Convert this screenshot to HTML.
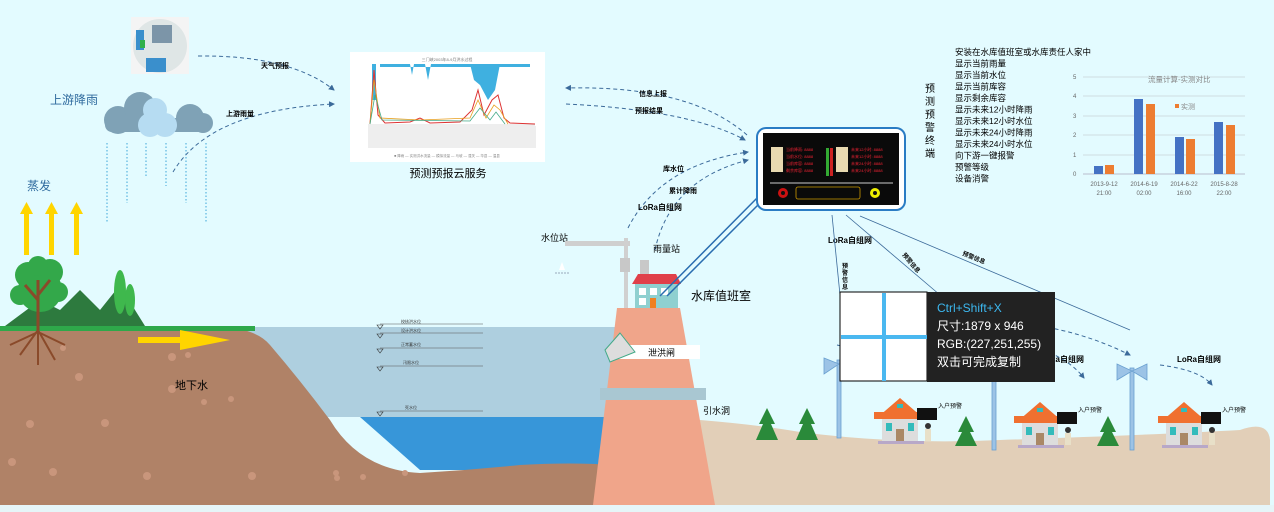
<!DOCTYPE html>
<html><head><meta charset="utf-8"><style>
html,body{margin:0;padding:0;background:#e3fbff;}
svg{display:block;font-family:"Liberation Sans","Noto Sans CJK SC",sans-serif;}
</style></head><body>
<svg width="1274" height="512" viewBox="0 0 1274 512" xmlns="http://www.w3.org/2000/svg">
<defs>
<marker id="ah" markerWidth="6" markerHeight="6" refX="5" refY="3" orient="auto"><path d="M0,0 L6,3 L0,6 z" fill="#3b6a9a"/></marker>
</defs>
<rect width="1274" height="512" fill="#e3fbff"/>

<path d="M700,420 Q760,425 800,432 Q900,445 1000,440 Q1150,435 1240,430 Q1268,420 1270,440 L1270,505 L700,505 Z" fill="#e2cfb8"/>
<rect x="215" y="327" width="400" height="90" fill="#aecfdf"/>
<path d="M360,417 L615,417 L615,470 L420,470 Z" fill="#3796d9"/>
<path d="M0,327 L215,327 Q255,327 270,345 Q300,380 330,420 Q360,470 420,473 Q470,470 520,465 Q570,462 615,465 L615,505 L0,505 Z" fill="#b08267"/>
<g fill="#c9967c">
<circle cx="63" cy="348" r="3"/><circle cx="79" cy="377" r="4"/><circle cx="172" cy="357" r="4"/><circle cx="188" cy="355" r="3"/><circle cx="30" cy="424" r="4"/><circle cx="105" cy="423" r="4"/><circle cx="172" cy="389" r="4"/><circle cx="12" cy="462" r="4"/><circle cx="53" cy="472" r="4"/><circle cx="147" cy="476" r="4"/><circle cx="204" cy="402" r="3"/><circle cx="231" cy="399" r="3"/><circle cx="252" cy="476" r="4"/><circle cx="337" cy="478" r="3"/><circle cx="405" cy="473" r="3"/><circle cx="336" cy="473" r="3"/><circle cx="363" cy="477" r="3"/>
</g>
<rect x="0" y="505" width="1274" height="7" fill="#e6f5f8"/>
<rect x="0" y="326" width="255" height="5" fill="#2ea84a"/>
<path d="M5,326 L40,300 L60,310 L80,290 L100,310 L120,285 L135,310 L145,326 Z" fill="#2d7a3e"/>
<circle cx="40" cy="290" r="22" fill="#33a84a"/><circle cx="28" cy="275" r="13" fill="#33a84a"/><circle cx="50" cy="272" r="13" fill="#33a84a"/><circle cx="38" cy="266" r="10" fill="#33a84a"/><circle cx="58" cy="292" r="10" fill="#33a84a"/><circle cx="20" cy="295" r="10" fill="#33a84a"/>
<path d="M38,330 L38,280 M38,300 L25,285 M38,295 L50,280" stroke="#8a4a2a" stroke-width="3" fill="none"/>
<path d="M38,330 L20,355 M38,330 L55,360 M38,330 L38,365 M38,332 L10,345 M38,332 L65,345" stroke="#8a4a2a" stroke-width="2" fill="none"/>
<ellipse cx="120" cy="292" rx="6" ry="22" fill="#3fb84d"/><ellipse cx="130" cy="300" rx="5" ry="16" fill="#3fb84d"/>
<g fill="#ffd500">
<rect x="24" y="212" width="5" height="43"/><path d="M20,214 L26.5,202 L33,214Z"/>
<rect x="49" y="212" width="5" height="43"/><path d="M45,214 L51.5,202 L58,214Z"/>
<rect x="74" y="212" width="5" height="43"/><path d="M70,214 L76.5,202 L83,214Z"/>
<rect x="138" y="337" width="45" height="6"/><path d="M180,330 L230,340 L180,350Z"/>
</g>
<text x="27" y="190" font-size="12" fill="#2e6a9e">蒸发</text>
<text x="50" y="104" font-size="12" fill="#2e6a9e">上游降雨</text>
<text x="175" y="389" font-size="11" fill="#000">地下水</text>
<g fill="#7fa2b6"><circle cx="118" cy="120" r="14"/><circle cx="140" cy="108" r="16"/><circle cx="190" cy="118" r="14"/><circle cx="203" cy="123" r="10"/><rect x="105" y="118" width="105" height="14" rx="7"/></g>
<g fill="#b6dcf2"><circle cx="155" cy="110" r="12"/><circle cx="150" cy="125" r="12"/><circle cx="165" cy="125" r="12"/></g>
<g stroke="#3ca6d8" stroke-width="1" stroke-dasharray="1.5,2">
<line x1="107" y1="143" x2="107" y2="222"/><line x1="127" y1="143" x2="127" y2="203"/><line x1="146" y1="143" x2="146" y2="178"/><line x1="166" y1="143" x2="166" y2="186"/><line x1="186" y1="143" x2="186" y2="203"/><line x1="206" y1="143" x2="206" y2="222"/>
</g>
<rect x="131" y="17" width="58" height="57" fill="#f4f4f4"/>
<circle cx="160" cy="46" r="27" fill="#dfe6e6"/>
<rect x="136" y="30" width="8" height="20" fill="#3a8fcc"/><rect x="152" y="25" width="20" height="18" fill="#7c95a8"/><rect x="146" y="58" width="20" height="14" fill="#3a8fcc"/><rect x="140" y="40" width="5" height="8" fill="#2fb04a"/>
<rect x="350" y="52" width="195" height="110" fill="#fff"/>
<text x="447" y="61" font-size="4" fill="#777" text-anchor="middle">三门峡2003年8-9月洪水过程</text>
<line x1="368" y1="125" x2="535" y2="125" stroke="#bbb" stroke-width="0.5"/>
<path d="M372,64 L376,64 L376,100 L372,100Z M470,64 L500,64 L495,90 L488,100 L480,85 L474,80Z M380,64 L530,64 L530,67 L380,67Z M410,64 L412,75 L414,64Z M425,64 L428,80 L431,64Z" fill="#3fb0e0"/>
<path d="M370,124 L374,70 L378,115 L385,123 L410,122 L420,118 L430,123 L460,122 L472,110 L478,90 L484,115 L492,100 L498,95 L504,118 L510,123 L535,124" stroke="#d33" stroke-width="1" fill="none"/>
<path d="M370,124 L374,80 L380,118 L420,120 L470,118 L478,100 L486,118 L494,105 L500,110 L508,124" stroke="#e8a020" stroke-width="0.8" fill="none"/>
<path d="M370,124 L375,95 L382,120 L470,121 L480,108 L490,120 L496,112 L505,124" stroke="#4a8" stroke-width="0.8" fill="none"/>
<rect x="368" y="126" width="168" height="22" fill="#eee"/>
<text x="447" y="157" font-size="3.5" fill="#888" text-anchor="middle">■ 降雨 — 实测洪水流量 — 模拟流量 — 马坡 — 潼关 — 华县 — 温县</text>
<text x="448" y="177" font-size="11" fill="#000" text-anchor="middle">预测预报云服务</text>
<g stroke="#3b6a9a" stroke-width="1" stroke-dasharray="4,3" fill="none" marker-end="url(#ah)">
<path d="M198,56 Q290,55 334,90"/>
<path d="M173,172 Q210,110 334,104"/>
<path d="M747,135 Q690,85 566,88"/>
<path d="M566,104 Q690,110 745,140"/>
<path d="M628,228 Q660,165 748,152"/>
<path d="M655,250 Q670,180 748,160"/>
<path d="M837,345 Q880,355 910,370"/>
<path d="M1043,350 Q1070,360 1084,378"/>
<path d="M1160,365 Q1200,370 1212,385"/>
<path d="M978,322 Q1060,320 1130,355"/>
</g>
<g font-size="7" fill="#000" font-weight="bold">
<text x="261" y="68">天气预报</text><text x="226" y="116">上游雨量</text>
<text x="639" y="96">信息上报</text><text x="635" y="113">预报结果</text>
<text x="663" y="171">库水位</text><text x="669" y="193">累计降雨</text>
<text x="638" y="210" font-size="8">LoRa自组网</text>
<text x="828" y="243" font-size="8">LoRa自组网</text>
<text x="1040" y="362" font-size="8">LoRa自组网</text>
<text x="1177" y="362" font-size="8">LoRa自组网</text>
</g>
<text x="541" y="241" font-size="9" fill="#000">水位站</text>
<text x="653" y="252" font-size="9" fill="#000">雨量站</text>
<text x="691" y="300" font-size="12" fill="#000">水库值班室</text>
<text x="703" y="414" font-size="9" fill="#000">引水洞</text>
<rect x="565" y="241" width="65" height="5" fill="#cfcfcf"/><rect x="624" y="238" width="4" height="70" fill="#d0d0d0"/><rect x="620" y="258" width="10" height="14" fill="#c8c8c8"/>
<path d="M562,262 L559,270 L565,270Z" fill="#fff"/><line x1="555" y1="273" x2="570" y2="273" stroke="#9ab" stroke-dasharray="2,1"/>
<rect x="640" y="260" width="9" height="14" fill="#c8c8c8"/>
<path d="M617,308 L680,308 L715,505 L593,505 Z" fill="#f0a58a"/>
<rect x="612" y="345" width="88" height="14" fill="#fff"/>
<rect x="600" y="388" width="106" height="12" fill="#a9c7d2"/>
<path d="M620,333 L605,350 L610,362 L635,352 Z" fill="#ddd" stroke="#4a8"/>
<text x="648" y="356" font-size="9">泄洪闸</text>
<path d="M632,284 L638,274 L676,274 L681,284 Z" fill="#e0404a"/>
<rect x="635" y="284" width="43" height="24" fill="#8fd0d0"/>
<rect x="639" y="288" width="7" height="7" fill="#fff"/><rect x="650" y="288" width="7" height="7" fill="#fff"/><rect x="661" y="288" width="7" height="7" fill="#fff"/><rect x="639" y="298" width="7" height="7" fill="#fff"/><rect x="650" y="298" width="6" height="10" fill="#f08020"/>
<path d="M660,296 L760,195 M667,296 L763,200" stroke="#2a6db0" stroke-width="1.5"/>
<g stroke="#555" stroke-width="0.6">
<line x1="380" y1="324" x2="483" y2="324"/><line x1="380" y1="333" x2="483" y2="333"/><line x1="380" y1="348" x2="483" y2="348"/><line x1="380" y1="366" x2="483" y2="366"/><line x1="380" y1="411" x2="483" y2="411"/>
</g>
<g font-size="4" fill="#333"><text x="401" y="323">校核洪水位</text><text x="401" y="332">设计洪水位</text><text x="401" y="346">正常蓄水位</text><text x="403" y="364">汛限水位</text><text x="405" y="409">死水位</text></g>
<g fill="none" stroke="#333" stroke-width="0.6"><path d="M377,325 L383,325 L380,329Z"/><path d="M377,334 L383,334 L380,338Z"/><path d="M377,349 L383,349 L380,353Z"/><path d="M377,367 L383,367 L380,371Z"/><path d="M377,412 L383,412 L380,416Z"/></g>
<rect x="757" y="128" width="148" height="82" rx="9" fill="#fff" stroke="#2a7cc4" stroke-width="2"/>
<rect x="763" y="133" width="136" height="72" fill="#0a0a0a"/>
<rect x="771" y="147" width="12" height="25" fill="#e8d9b0"/><rect x="836" y="147" width="12" height="25" fill="#e8d9b0"/>
<rect x="826" y="148" width="3" height="28" fill="#3a3"/><rect x="830" y="148" width="3" height="28" fill="#c22"/>
<g fill="#e23" font-size="4"><text x="786" y="151">当前降雨: 8888</text><text x="786" y="158">当前水位: 8888</text><text x="786" y="165">当前库容: 8888</text><text x="786" y="172">剩余库容: 8888</text><text x="851" y="151">未来12小时: 8888</text><text x="851" y="158">未来12小时: 8888</text><text x="851" y="165">未来24小时: 8888</text><text x="851" y="172">未来24小时: 8888</text></g>
<line x1="770" y1="183" x2="893" y2="183" stroke="#ccc" stroke-width="1"/>
<circle cx="783" cy="193" r="5" fill="#c11"/><circle cx="783" cy="193" r="2" fill="#111"/>
<circle cx="875" cy="193" r="5" fill="#ee0"/><circle cx="875" cy="193" r="2" fill="#111"/>
<rect x="796" y="187" width="64" height="12" rx="2" fill="none" stroke="#c90" stroke-width="0.8"/>
<g font-size="10" fill="#000"><text x="925" y="92">预</text><text x="925" y="105">测</text><text x="925" y="118">预</text><text x="925" y="131">警</text><text x="925" y="144">终</text><text x="925" y="157">端</text></g>
<g font-size="8.5" fill="#000">
<text x="955" y="55">安装在水库值班室或水库责任人家中</text><text x="955" y="66.5">显示当前雨量</text><text x="955" y="78">显示当前水位</text><text x="955" y="89.5">显示当前库容</text><text x="955" y="101">显示剩余库容</text><text x="955" y="112.5">显示未来12小时降雨</text><text x="955" y="124">显示未来12小时水位</text><text x="955" y="135.5">显示未来24小时降雨</text><text x="955" y="147">显示未来24小时水位</text><text x="955" y="158.5">向下游一键报警</text><text x="955" y="170">预警等级</text><text x="955" y="181.5">设备消警</text>
</g>
<g stroke="#c8d4d8" stroke-width="0.8"><line x1="1083" y1="77" x2="1245" y2="77"/><line x1="1083" y1="96" x2="1245" y2="96"/><line x1="1083" y1="116" x2="1245" y2="116"/><line x1="1083" y1="135" x2="1245" y2="135"/><line x1="1083" y1="155" x2="1245" y2="155"/><line x1="1083" y1="174" x2="1245" y2="174" stroke="#aab"/></g>
<g font-size="6" fill="#666"><text x="1073" y="79">5</text><text x="1073" y="98">4</text><text x="1073" y="118">3</text><text x="1073" y="137">2</text><text x="1073" y="157">1</text><text x="1073" y="176">0</text></g>
<text x="1148" y="82" font-size="7.5" fill="#888">流量计算-实测对比</text>
<g fill="#4472c4"><rect x="1094" y="166" width="9" height="8"/><rect x="1134" y="99" width="9" height="75"/><rect x="1175" y="137" width="9" height="37"/><rect x="1214" y="122" width="9" height="52"/></g>
<g fill="#ed7d31"><rect x="1105" y="165" width="9" height="9"/><rect x="1146" y="104" width="9" height="70"/><rect x="1186" y="139" width="9" height="35"/><rect x="1226" y="125" width="9" height="49"/></g>
<rect x="1175" y="104" width="4" height="4" fill="#ed7d31"/><text x="1181" y="109" font-size="7" fill="#888">实测</text>
<g font-size="6" fill="#666" text-anchor="middle"><text x="1104" y="186">2013-9-12</text><text x="1104" y="195">21:00</text><text x="1144" y="186">2014-6-19</text><text x="1144" y="195">02:00</text><text x="1184" y="186">2014-6-22</text><text x="1184" y="195">16:00</text><text x="1224" y="186">2015-8-28</text><text x="1224" y="195">22:00</text></g>
<g stroke="#3b6a9a" stroke-width="0.8"><line x1="832" y1="215" x2="840" y2="295"/><line x1="846" y1="215" x2="940" y2="295"/><line x1="860" y1="216" x2="1130" y2="330"/></g>
<g font-size="6" font-weight="bold" fill="#000"><text x="842" y="268">预</text><text x="842" y="275">警</text><text x="842" y="282">信</text><text x="842" y="289">息</text>
<text x="902" y="255" transform="rotate(50 902 255)">预警信息</text><text x="962" y="255" transform="rotate(22 962 255)">预警信息</text></g>
<g fill="#9cc3e6" stroke="#6aa0d0" stroke-width="0.8">
<rect x="837" y="360" width="4" height="78"/><path d="M824,358 L839,364 L824,374Z"/>
<rect x="992" y="380" width="4" height="70"/>
<rect x="1130" y="368" width="4" height="82"/><path d="M1117,364 L1132,371 L1117,380Z M1147,364 L1132,371 L1147,380Z"/>
</g>
<g id="h">
<rect x="878" y="441" width="46" height="3" fill="#b8a8c8"/>
<path d="M878,417 L900,398 L922,417 Z" fill="#f07030"/><rect x="882" y="416" width="36" height="25" fill="#ddd"/><rect x="874" y="412" width="52" height="7" fill="#f07030"/>
<rect x="886" y="423" width="6" height="8" fill="#3bb"/><rect x="908" y="423" width="6" height="8" fill="#3bb"/><rect x="896" y="429" width="8" height="12" fill="#a86"/>
<rect x="897" y="404" width="6" height="4" fill="#3bb"/>
<rect x="917" y="408" width="20" height="12" fill="#111"/>
<circle cx="928" cy="426" r="3" fill="#333"/><rect x="925" y="429" width="6" height="12" fill="#e8e0c8"/>
<text x="938" y="408" font-size="6">入户预警</text>
</g>
<use href="#h" x="140" y="4"/><use href="#h" x="284" y="4"/>
<g fill="#2a8a3a"><path d="M767,408 L759,424 L763,424 L756,440 L778,440 L771,424 L775,424Z"/><path d="M807,408 L799,424 L803,424 L796,440 L818,440 L811,424 L815,424Z"/><path d="M966,416 L958,432 L962,432 L955,446 L977,446 L970,432 L974,432Z"/><path d="M1108,416 L1100,432 L1104,432 L1097,446 L1119,446 L1112,432 L1116,432Z"/></g>
<rect x="840" y="292" width="87" height="89" fill="#fff" stroke="#000" stroke-width="1"/>
<rect x="882" y="293" width="4" height="88" fill="#4ab8f0"/><rect x="841" y="335" width="86" height="4" fill="#4ab8f0"/>
<rect x="927" y="292" width="128" height="90" fill="#222"/>
<text x="937" y="312" font-size="12" fill="#3cb8f0">Ctrl+Shift+X</text>
<text x="937" y="330" font-size="12" fill="#fff">尺寸:1879 x 946</text>
<text x="937" y="348" font-size="12" fill="#fff">RGB:(227,251,255)</text>
<text x="937" y="366" font-size="12" fill="#fff">双击可完成复制</text>
</svg>
</body></html>
